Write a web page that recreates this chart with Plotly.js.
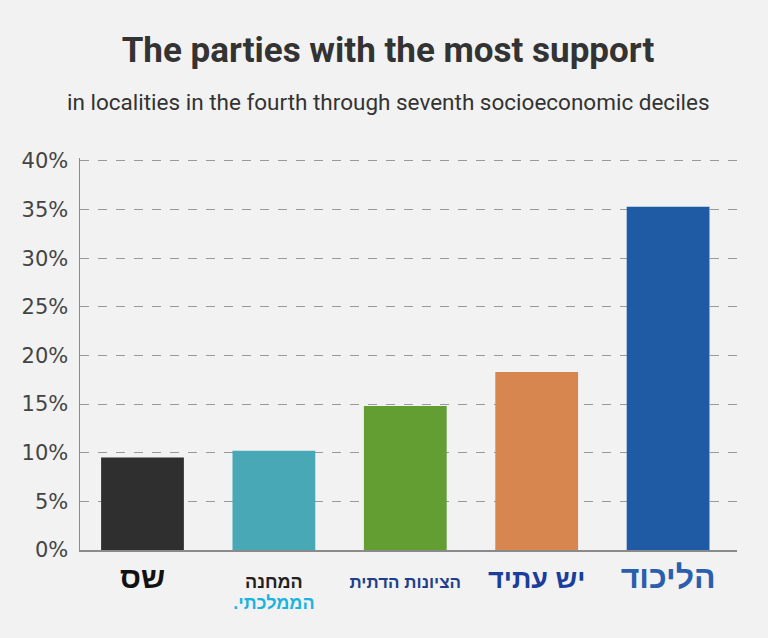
<!DOCTYPE html>
<html>
<head>
<meta charset="utf-8">
<script src="https://cdn.plot.ly/plotly-3.0.1.min.js"></script>
<style>
html,body{margin:0;padding:0;background:#f2f2f2;}
#chart{width:768px;height:638px;}
</style>
</head>
<body>
<div id="chart"></div>
<script>
// Data
const parties = ["Shas", "National Unity", "Religious Zionism", "Yesh Atid", "Likud"];
const partyLabels = [
  '<span style="font-size:30px;font-weight:bold;color:#111">שס</span>',
  '<span style="font-size:18px;font-weight:bold;color:#222">המחנה</span><br><span style="font-size:18px;font-weight:bold;color:#1ab3e2">.הממלכתי</span>',
  '<span style="font-size:17px;font-weight:bold;color:#1f3f8c">הציונות הדתית</span>',
  '<span style="font-size:27px;font-weight:bold;color:#1b3e9c">יש עתיד</span>',
  '<span style="font-size:32px;font-weight:bold;color:#2a5fae">הליכוד</span>'
];
const support = [9.5, 10.2, 14.8, 18.3, 35.3];
const barColors = ["#2f2f2f", "#48a8b6", "#629e31", "#d6864e", "#1f5ba5"];
const yTicks = [0, 5, 10, 15, 20, 25, 30, 35, 40];

const trace = {
  type: "bar",
  x: parties,
  y: support,
  marker: {color: barColors, line: {width: 0}},
  hoverinfo: "skip"
};

const layout = {
  width: 768,
  height: 638,
  paper_bgcolor: "#f2f2f2",
  plot_bgcolor: "#f2f2f2",
  margin: {l: 80, r: 31, t: 158, b: 88},
  bargap: 0.37,
  showlegend: false,
  title: {
    text: "<b>The parties with the most support</b>",
    font: {family: "Roboto", size: 35, color: "#333333"},
    x: 388 / 768, xref: "container", xanchor: "center",
    y: 1 - 50 / 638, yref: "container", yanchor: "middle"
  },
  annotations: [{
    text: "in localities in the fourth through seventh socioeconomic deciles",
    xref: "paper", yref: "paper", x: (388 - 80) / 657, y: 1, xanchor: "center", yanchor: "middle",
    yshift: 56,
    showarrow: false,
    font: {family: "Roboto", size: 22.5, color: "#333333"}
  }],
  xaxis: {
    type: "category",
    range: [-0.4756, 4.5244],
    tickvals: parties,
    ticktext: partyLabels,
    showgrid: false,
    showline: true,
    linecolor: "#8a8a8a",
    linewidth: 1.5,
    ticks: "",
    ticklabelstandoff: 17,
    tickfont: {family: "Liberation Sans", size: 16, color: "#222"},
    fixedrange: true
  },
  yaxis: {
    range: [0, 40.3],
    tickvals: yTicks,
    ticktext: yTicks.map(v => v + "%"),
    showgrid: true,
    gridcolor: "#999999",
    gridwidth: 1,
    griddash: "dash",
    showline: true,
    linecolor: "#8a8a8a",
    linewidth: 1.5,
    zeroline: false,
    ticks: "",
    ticklabelstandoff: 6,
    tickfont: {family: "DejaVu Sans", size: 21, color: "#444444"},
    fixedrange: true
  }
};

Plotly.newPlot("chart", [trace], layout, {displayModeBar: false, staticPlot: true});
</script>
</body>
</html>
